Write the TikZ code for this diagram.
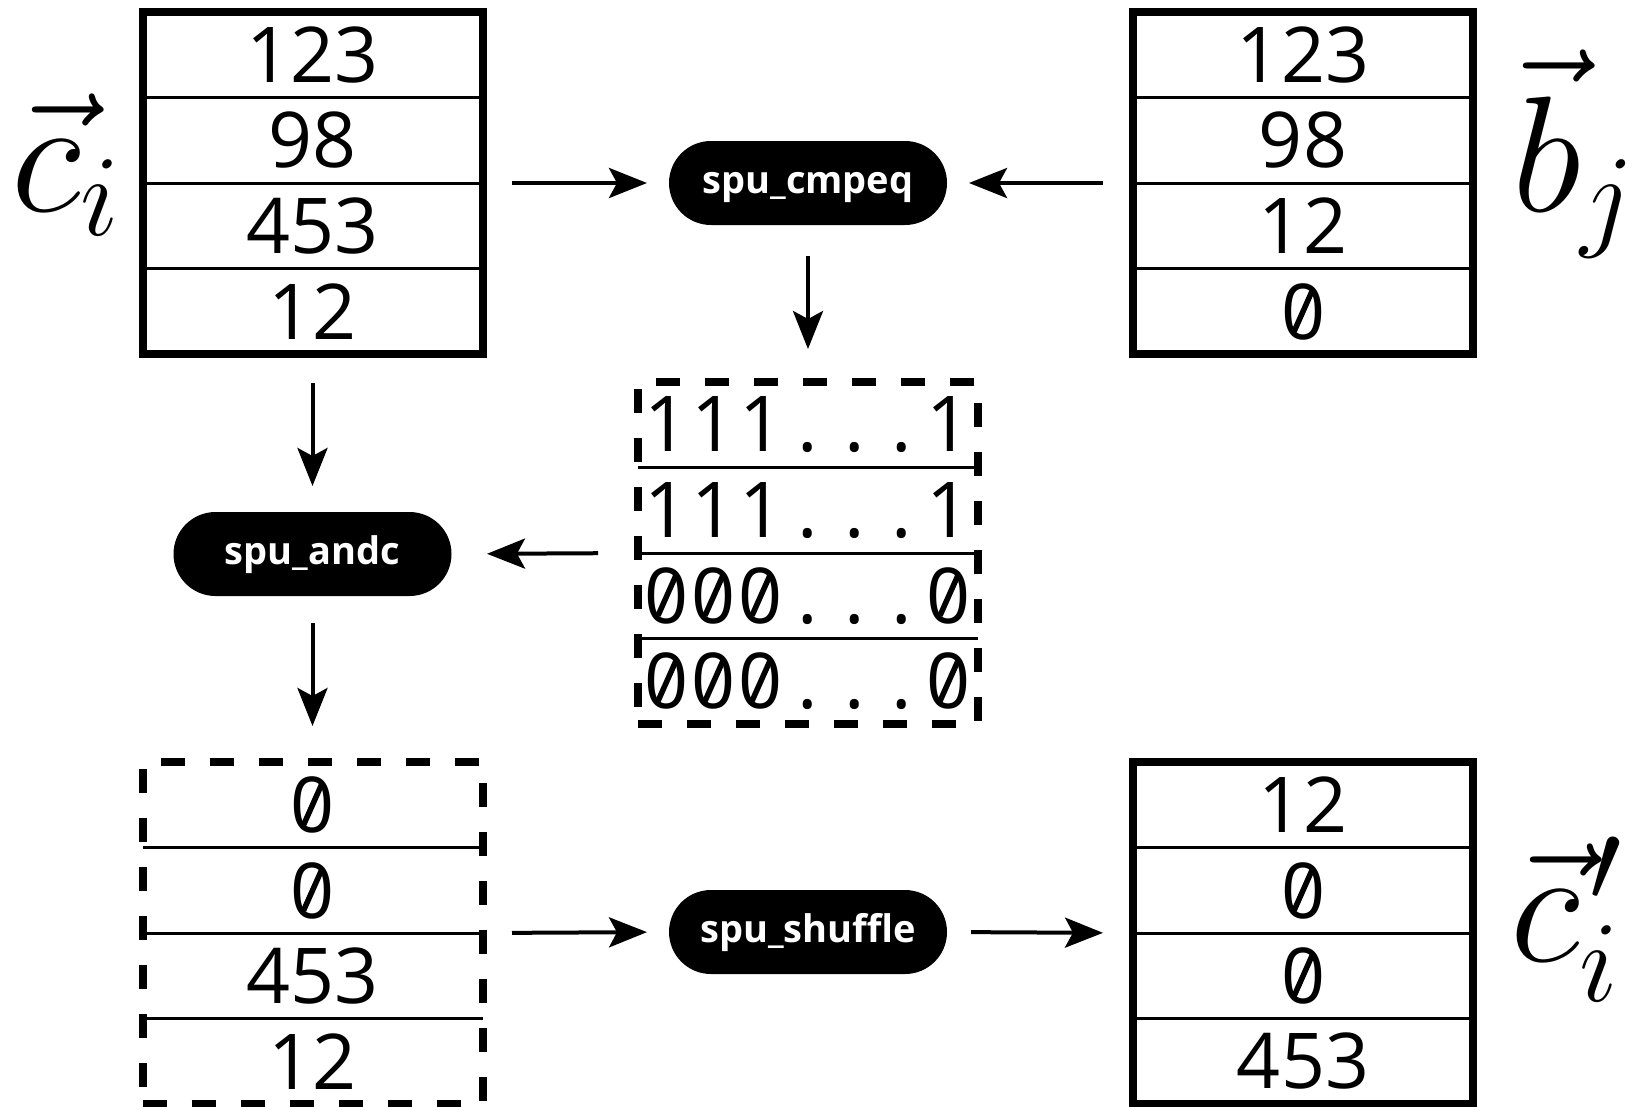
\RequirePackage{fix-cm}
\documentclass[tikz,border=0pt]{standalone}
\usepackage{graphicx}
\usepackage{fontspec}
\setmainfont{Open Sans}
\usetikzlibrary{arrows.meta}

% slashed zero: an oval 0 with a bar drawn through it
\newcommand\szero{\ooalign{0\cr\hidewidth\raisebox{25pt}{\rotatebox[origin=c]{66}{\rule{44pt}{5.5pt}}}\hidewidth\cr}}
% one fixed-width slot of a mask row
\newcommand\mk[1]{\makebox[47pt]{#1}}

\tikzset{
  vecbox/.style={draw, line width=8pt, minimum width=340pt, minimum height=342pt,
                 inner sep=0pt, outer sep=0pt},
  maskbox/.style={vecbox, dash pattern=on 24pt off 25pt},
  opnode/.style={fill=black, text=white, rounded corners=42pt, minimum width=278pt,
                 minimum height=84pt, inner sep=0pt, outer sep=0pt,
                 text height=20.5pt, text depth=0pt,
                 font=\fontsize{38}{40}\selectfont\bfseries},
  cell/.style={inner sep=0pt, outer sep=0pt, font=\fontsize{77}{80}\selectfont},
  rowsep/.style={line width=3pt},
  flow/.style={line width=4pt, -{Stealth[length=38pt, width=30pt, inset=8pt]}},
  veclabel/.style={inner sep=0pt, outer sep=0pt, font=\fontsize{165}{165}\selectfont},
}

\begin{document}
\begin{tikzpicture}[x=1pt, y=-1pt]
\useasboundingbox (0,0) rectangle (1640,1106);
\fill[white] (0,0) rectangle (1640,1106);

% ---- input vector c_i ----
\node[vecbox] (cvec) at (312.5,183) {};
\foreach \d in {-85.5,0,85.5}
  \draw[rowsep] ([yshift=\d pt]cvec.west) -- ([yshift=\d pt]cvec.east);
\node[cell] (c1) at (312.5,54.75) {123};
\node[cell] (c2) at (312.5,140.25) {98};
\node[cell] (c3) at (312.5,225.75) {453};
\node[cell] (c4) at (312.5,311.25) {12};
\node[veclabel, anchor=base east] (clabel) at (120,211) {$\vec{c}_i$};

% ---- input vector b_j ----
\node[vecbox] (bvec) at (1303,183) {};
\foreach \d in {-85.5,0,85.5}
  \draw[rowsep] ([yshift=\d pt]bvec.west) -- ([yshift=\d pt]bvec.east);
\node[cell] (b1) at (1303,54.75) {123};
\node[cell] (b2) at (1303,140.25) {98};
\node[cell] (b3) at (1303,225.75) {12};
\node[cell] (b4) at (1303,311.25) {\szero};
\node[veclabel, anchor=base west] (blabel) at (1512,211) {$\vec{b}_j$};

% ---- operations ----
\node[opnode] (cmpeq) at (808,183) {spu\_cmpeq};
\node[opnode] (andc) at (312.5,554) {spu\_andc};
\node[opnode] (shuffle) at (808,932) {spu\_shuffle};

% ---- comparison mask ----
\node[maskbox] (mask) at (808,553) {};
\foreach \d in {-85.5,0,85.5}
  \draw[rowsep] ([yshift=\d pt]mask.west) -- ([yshift=\d pt]mask.east);
\node[cell] (m1) at (808,424.75) {\mk{1}\mk{1}\mk{1}\mk{.}\mk{.}\mk{.}\mk{1}};
\node[cell] (m2) at (808,510.25) {\mk{1}\mk{1}\mk{1}\mk{.}\mk{.}\mk{.}\mk{1}};
\node[cell] (m3) at (808,595.75) {\mk{\szero}\mk{\szero}\mk{\szero}\mk{.}\mk{.}\mk{.}\mk{\szero}};
\node[cell] (m4) at (808,681.25) {\mk{\szero}\mk{\szero}\mk{\szero}\mk{.}\mk{.}\mk{.}\mk{\szero}};

% ---- masked vector ----
\node[maskbox] (masked) at (312.5,933) {};
\foreach \d in {-85.5,0,85.5}
  \draw[rowsep] ([yshift=\d pt]masked.west) -- ([yshift=\d pt]masked.east);
\node[cell] (k1) at (312.5,804.75) {\szero};
\node[cell] (k2) at (312.5,890.25) {\szero};
\node[cell] (k3) at (312.5,975.75) {453};
\node[cell] (k4) at (312.5,1061.25) {12};

% ---- result vector c_i' ----
\node[vecbox] (rvec) at (1303,933) {};
\foreach \d in {-85.5,0,85.5}
  \draw[rowsep] ([yshift=\d pt]rvec.west) -- ([yshift=\d pt]rvec.east);
\node[cell] (r1) at (1303,804.75) {12};
\node[cell] (r2) at (1303,890.25) {\szero};
\node[cell] (r3) at (1303,975.75) {\szero};
\node[cell] (r4) at (1303,1061.25) {453};
\node[veclabel, anchor=base west] (rlabel) at (1510,961) {$\vec{c}_i^{\mkern1.5mu\prime}$};

% ---- data flow ----
\draw[flow, shorten <=29.5pt, shorten >=22pt] (cvec.east) -- (cmpeq.west);
\draw[flow, shorten <=30pt, shorten >=22pt] (bvec.west) -- (cmpeq.east);
\draw[flow, shorten <=31pt, shorten >=33pt] (cmpeq.south) -- (mask.north);
\draw[flow, shorten <=29pt, shorten >=26pt] (cvec.south) -- (andc.north);
\draw[flow, shorten <=40pt, shorten >=35.5pt] (mask.west) -- (andc.east);
\draw[flow, shorten <=27pt, shorten >=36pt] (andc.south) -- (masked.north);
\draw[flow, shorten <=29.5pt, shorten >=22pt] (masked.east) -- (shuffle.west);
\draw[flow, shorten <=24pt, shorten >=30pt] (shuffle.east) -- (rvec.west);
\end{tikzpicture}
\end{document}
